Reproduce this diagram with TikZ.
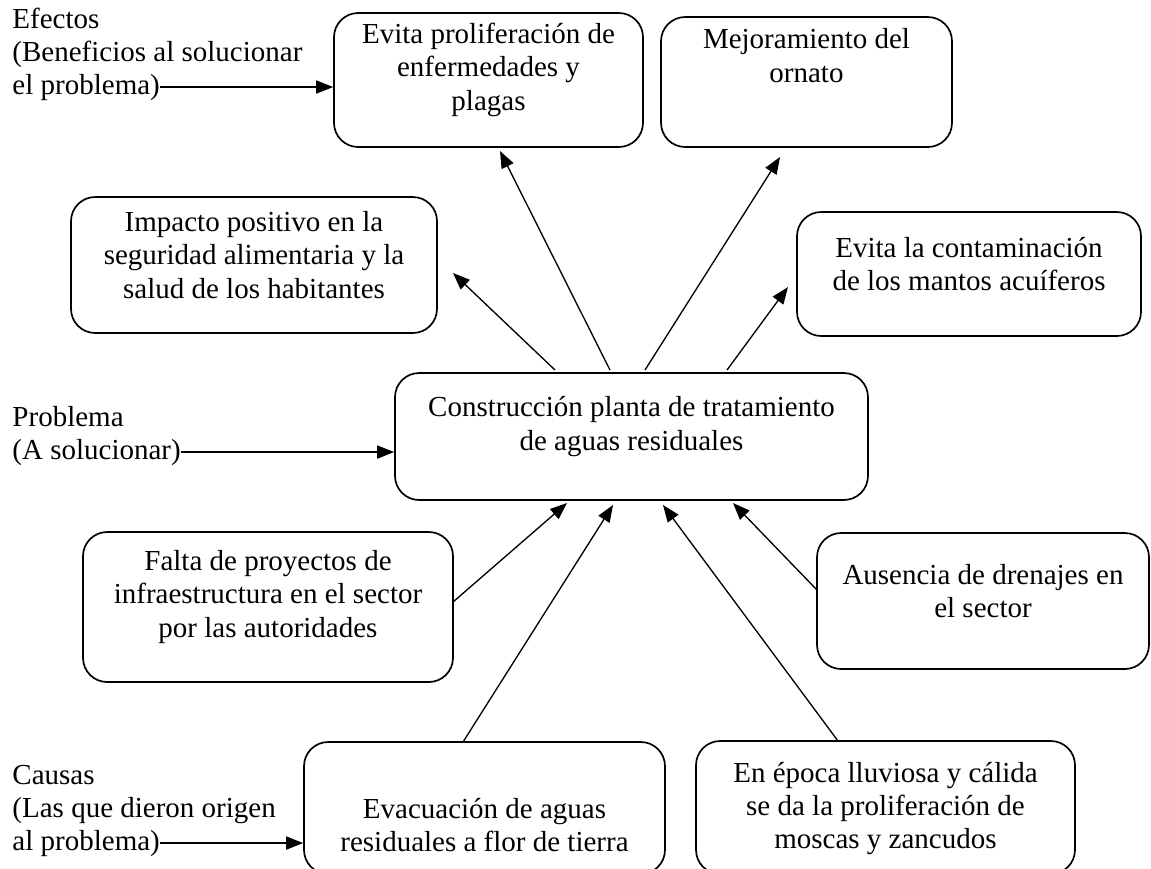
\documentclass[tikz,border=0pt]{standalone}
\usepackage{fontspec}
\setmainfont{Liberation Serif}
\usetikzlibrary{arrows.meta,fit}
\begin{document}
\begin{tikzpicture}[x=0.413793pt,y=-0.413793pt,
  box/.style={draw,rounded corners=10pt,line width=0.7pt,align=center,inner sep=0pt,
    font=\fontsize{12}{13.8}\selectfont},
  lbl/.style={anchor=base west,inner sep=0pt,font=\fontsize{12}{13.8}\selectfont},
  txt/.style={align=center,inner sep=0pt,font=\fontsize{12}{13.8}\selectfont},
  arr/.style={-{Triangle[length=7pt,width=5.4pt]},line width=0.55pt}]
\useasboundingbox (0,0) rectangle (1151,868);
% effects
\node[box,fit={(334,13) (643,147)}] (e1) {Evita proliferación de\\enfermedades y\\plagas};
\node[box,fit={(661,17) (952,147)}] (e2) {Mejoramiento del\\ornato\\\mbox{}};
\node[box,fit={(71,197) (437,333)}] (e3) {Impacto positivo en la\\seguridad alimentaria y la\\salud de los habitantes};
\node[box,fit={(797,212) (1141,336)}] (e4) {Evita la contaminación\\de los mantos acuíferos};
% problem
\node[box,fit={(395,373) (868,500)}] (p) {Construcción planta de tratamiento\\de aguas residuales};
% causes
\node[box,fit={(83,532) (453,682)}] (c1) {Falta de proyectos de\\infraestructura en el sector\\por las autoridades};
\node[box,fit={(817,533) (1149,669)}] (c2) {Ausencia de drenajes en\\el sector};
\node[box,fit={(304,742) (665,874)}] (c3) {};
\node[txt] (c3t) at (484.5,825) {Evacuación de aguas\\residuales a flor de tierra};
\node[box,fit={(696,741) (1075,874)}] (c4) {};
\node[txt] (c4t) at (885.5,808.5) {En época lluviosa y cálida\\se da la proliferación de\\moscas y zancudos};
% left labels
\node[lbl] (l1a) at (12,28) {Efectos};
\node[lbl] (l1b) at (12,61) {(Beneficios al solucionar};
\node[lbl] (l1c) at (12,94) {el problema)};
\node[lbl] (l2a) at (12,426) {Problema};
\node[lbl] (l2b) at (12,459) {(A solucionar)};
\node[lbl] (l3a) at (12,784) {Causas};
\node[lbl] (l3b) at (12,817) {(Las que dieron origen};
\node[lbl] (l3c) at (12,850) {al problema)};
\draw[arr] (l1c.east) -- (e1.west |- l1c.east);
\draw[arr] (l2b.east) -- (p.west |- l2b.east);
\draw[arr] (l3c.east) -- (c3.west |- l3c.east);
% arrows from the problem to the effects
\coordinate (t3) at (555,370);
\coordinate (t1) at (610,370);
\coordinate (t2) at (645,370);
\coordinate (t4) at (727,370);
\coordinate (h3) at (453,273);
\coordinate (h1) at (500,151);
\coordinate (h2) at (780,157);
\coordinate (h4) at (788,287);
\draw[arr] (t3) -- (h3);
\draw[arr] (t1) -- (h1);
\draw[arr] (t2) -- (h2);
\draw[arr] (t4) -- (h4);
% arrows from the causes to the problem
\coordinate (s1) at (453,602);
\coordinate (s2) at (463,742);
\coordinate (s3) at (838,741);
\coordinate (s4) at (817,590);
\coordinate (g1) at (567,503);
\coordinate (g2) at (613,505);
\coordinate (g3) at (663,505);
\coordinate (g4) at (733,503);
\draw[arr] (s1) -- (g1);
\draw[arr] (s2) -- (g2);
\draw[arr] (s3) -- (g3);
\draw[arr] (s4) -- (g4);
\end{tikzpicture}
\end{document}
